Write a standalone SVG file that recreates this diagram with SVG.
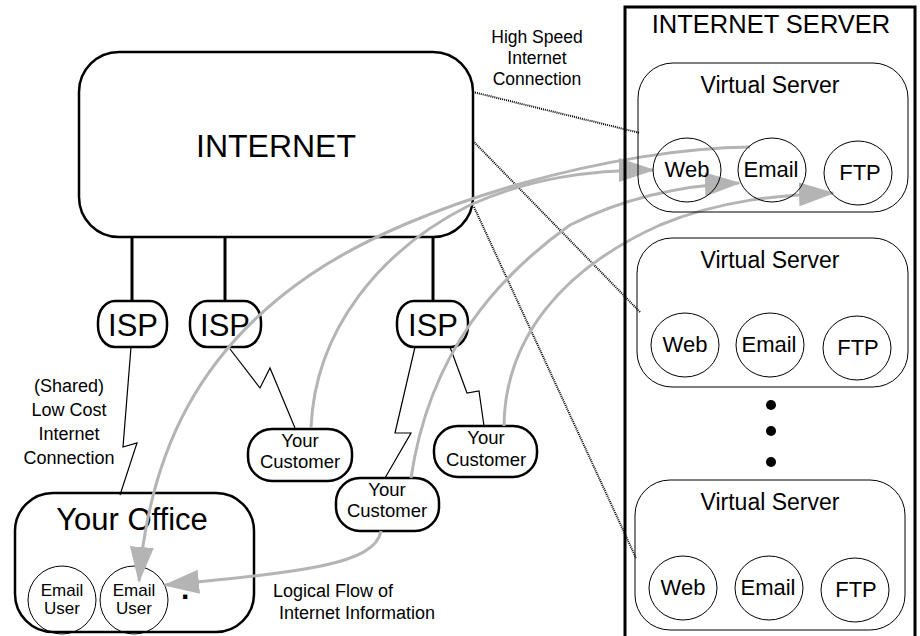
<svg xmlns="http://www.w3.org/2000/svg" width="920" height="636" viewBox="0 0 920 636">
<style>
text{font-family:"Liberation Sans",Arial,sans-serif;fill:#000}
.box{fill:#fff;stroke:#000;stroke-width:2.5}
.thin{fill:none;stroke:#000;stroke-width:1}
.wire{fill:none;stroke:#000;stroke-width:3}
.zig{fill:none;stroke:#000;stroke-width:1.2}
.dot{fill:none;stroke:#000;stroke-width:2;stroke-dasharray:1 1}
.flow{fill:none;stroke:#b4b4b4;stroke-width:3;marker-end:url(#ah)}
.c{text-anchor:middle}
</style>
<defs>
<marker id="ah" markerUnits="userSpaceOnUse" markerWidth="36" markerHeight="24" viewBox="0 0 36 24" refX="34" refY="12" orient="auto">
<path d="M0,0 L36,12 L0,24 z" fill="#b4b4b4"/>
</marker>
</defs>
<rect width="920" height="636" fill="#fff"/>

<g id="internet">
<rect class="box" x="79" y="52" width="394" height="185" rx="40"/>
<text class="c" x="276" y="157" font-size="32">INTERNET</text>
</g>

<g id="links">
<line class="wire" x1="132" y1="237" x2="132" y2="301"/>
<line class="wire" x1="225" y1="237" x2="225" y2="301"/>
<line class="wire" x1="433" y1="237" x2="433" y2="301"/>
</g>

<g id="isp1">
<rect class="box" x="98" y="301" width="69" height="46" rx="17" ry="21"/>
<text class="c" x="133" y="336" font-size="31">ISP</text>
</g>
<g id="isp2">
<rect class="box" x="190" y="301" width="71" height="46" rx="17" ry="21"/>
<text class="c" x="225" y="336" font-size="31">ISP</text>
</g>
<g id="isp3">
<rect class="box" x="397" y="301" width="71" height="46" rx="17" ry="21"/>
<text class="c" x="433" y="336" font-size="31">ISP</text>
</g>

<g id="customer1">
<rect class="box" x="248" y="429" width="104" height="52" rx="24" stroke-width="2"/>
<text class="c" x="300" y="447" font-size="18.5">Your</text>
<text class="c" x="300" y="468" font-size="18.5">Customer</text>
</g>
<g id="customer2">
<rect class="box" x="434" y="426" width="103" height="51" rx="24" stroke-width="2"/>
<text class="c" x="486" y="444" font-size="18.5">Your</text>
<text class="c" x="486" y="466" font-size="18.5">Customer</text>
</g>
<g id="customer3">
<rect class="box" x="336" y="478" width="103" height="53" rx="24" stroke-width="2"/>
<text class="c" x="387" y="496" font-size="18.5">Your</text>
<text class="c" x="387" y="517" font-size="18.5">Customer</text>
</g>

<g id="office">
<rect class="box" x="15" y="493" width="239" height="139" rx="38"/>
<text class="c" x="132" y="530" font-size="31">Your Office</text>
<circle class="thin" cx="62" cy="600" r="34"/>
<text class="c" x="62" y="596" font-size="17">Email</text>
<text class="c" x="62" y="614" font-size="17">User</text>
<circle class="thin" cx="134" cy="600" r="34"/>
<text class="c" x="134" y="596" font-size="17">Email</text>
<text class="c" x="134" y="614" font-size="17">User</text>
<text x="181" y="599" font-size="30" font-weight="bold">.</text>
</g>

<g id="labels">
<text class="c" x="537" y="43" font-size="17.5">High Speed</text>
<text class="c" x="537" y="64" font-size="17.5">Internet</text>
<text class="c" x="537" y="85" font-size="17.5">Connection</text>
<text class="c" x="69" y="392" font-size="18">(Shared)</text>
<text class="c" x="69" y="416" font-size="18">Low Cost</text>
<text class="c" x="69" y="440" font-size="18">Internet</text>
<text class="c" x="69" y="464" font-size="18">Connection</text>
<text x="273" y="597" font-size="18">Logical Flow of</text>
<text x="279" y="619" font-size="18">Internet Information</text>
</g>

<g id="connectors">
<polyline class="zig" points="131,347 123,447 137,443 120,495"/>
<polyline class="zig" points="230,349 260,388 270,368 295,428"/>
<polyline class="zig" points="415,347 395,433 411,433 385,478"/>
<polyline class="zig" points="450,347 467,393 479,391 484,426"/>
<line class="dot" x1="473" y1="92" x2="640" y2="133"/>
<line class="dot" x1="473" y1="141" x2="640" y2="312"/>
<line class="dot" x1="474" y1="207" x2="636" y2="558"/>
<path class="flow" d="M750,147 C620,148 420,200 310,275 C200,350 150,450 139,581"/>
<path class="flow" d="M311,428 C315,330 380,250 470,205 C530,178 590,170 653,170"/>
<path class="flow" d="M411,478 C430,350 500,275 570,225 C630,195 690,185 739,183"/>
<path class="flow" d="M504,426 C505,340 560,270 660,225 C720,200 780,195 833,193"/>
<path class="flow" d="M381,531 C375,565 300,572 165,585"/>
</g>

<g id="internet-server">
<rect x="625" y="7" width="290" height="640" fill="none" stroke="#000" stroke-width="3"/>
<text class="c" x="771" y="33" font-size="25.5">INTERNET SERVER</text>
</g>

<g id="vs1">
<rect class="thin" x="638" y="63" width="270" height="149" rx="35"/>
<text class="c" x="770" y="93" font-size="23">Virtual Server</text>
<ellipse class="thin" cx="687" cy="170" rx="34" ry="32"/>
<text class="c" x="687" y="177" font-size="22">Web</text>
<ellipse class="thin" cx="772" cy="170" rx="34" ry="32"/>
<text class="c" x="771" y="177" font-size="22">Email</text>
<ellipse class="thin" cx="858" cy="173" rx="34" ry="32"/>
<text class="c" x="860" y="180" font-size="22">FTP</text>
</g>
<g id="vs2">
<rect class="thin" x="637" y="238" width="271" height="149" rx="35"/>
<text class="c" x="770" y="268" font-size="23">Virtual Server</text>
<ellipse class="thin" cx="685" cy="345" rx="34" ry="32"/>
<text class="c" x="685" y="352" font-size="22">Web</text>
<ellipse class="thin" cx="770" cy="345" rx="34" ry="32"/>
<text class="c" x="769" y="352" font-size="22">Email</text>
<ellipse class="thin" cx="857" cy="348" rx="34" ry="32"/>
<text class="c" x="858" y="355" font-size="22">FTP</text>
</g>
<g id="ellipsis">
<circle cx="771" cy="405" r="5"/>
<circle cx="771" cy="431" r="5"/>
<circle cx="771" cy="462" r="5"/>
</g>
<g id="vs3">
<rect class="thin" x="635" y="480" width="270" height="150" rx="35"/>
<text class="c" x="770" y="510" font-size="23">Virtual Server</text>
<ellipse class="thin" cx="683" cy="588" rx="34" ry="32"/>
<text class="c" x="683" y="595" font-size="22">Web</text>
<ellipse class="thin" cx="769" cy="588" rx="34" ry="32"/>
<text class="c" x="768" y="595" font-size="22">Email</text>
<ellipse class="thin" cx="855" cy="590" rx="34" ry="32"/>
<text class="c" x="856" y="597" font-size="22">FTP</text>
</g>
</svg>
